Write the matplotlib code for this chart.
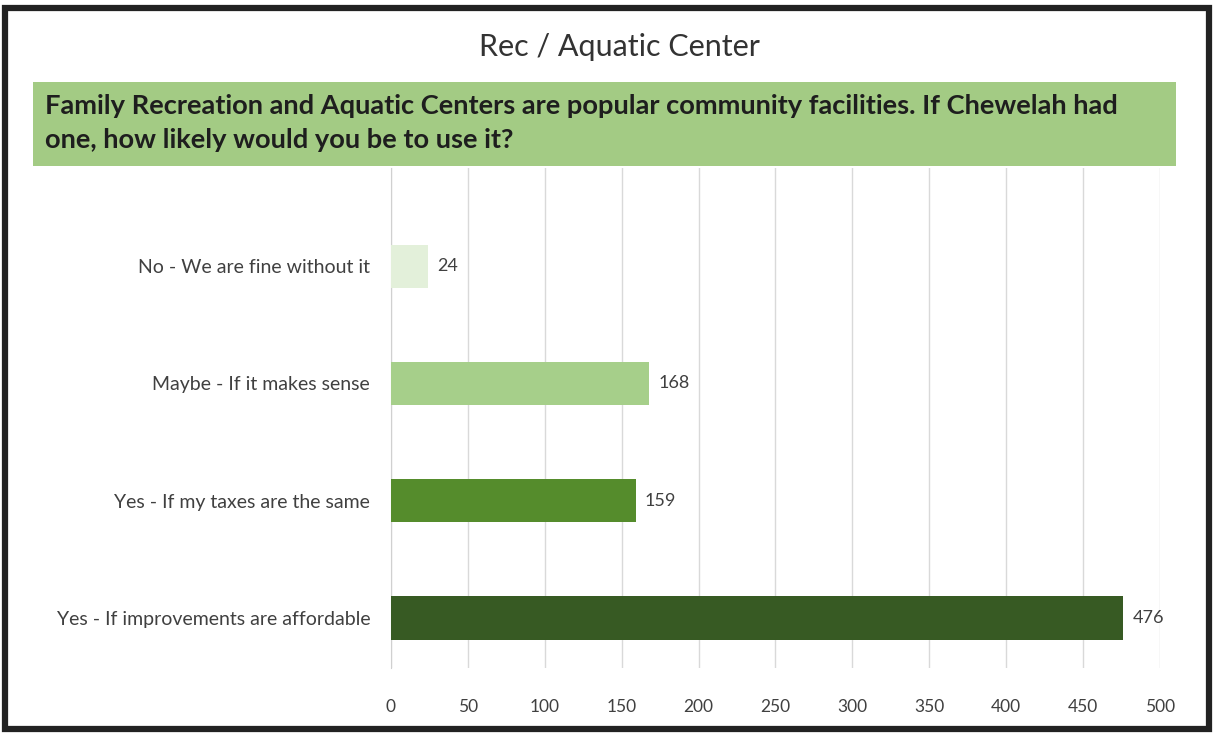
import matplotlib
matplotlib.use("Agg")
import matplotlib.pyplot as plt
from matplotlib.patches import Rectangle

# survey responses, top to bottom
categories = [
    "No - We are fine without it",
    "Maybe - If it makes sense",
    "Yes - If my taxes are the same",
    "Yes - If improvements are affordable",
]
counts = [24, 168, 159, 476]
bar_colors = ["#e3f0da", "#a6cf8a", "#558c2c", "#375a23"]
xticks = [0, 50, 100, 150, 200, 250, 300, 350, 400, 450, 500]

title = "Rec / Aquatic Center"
question = ("Family Recreation and Aquatic Centers are popular community facilities. If Chewelah had\n"
            "one, how likely would you be to use it?")

plt.rcParams["font.family"] = ["Lato", "DejaVu Sans"]

W, H = 1214, 734
fig = plt.figure(figsize=(W / 100, H / 100), dpi=100)


def fx(px):
    return px / W


def fy(py):
    return 1 - py / H


# outer frame
fig.patches.append(Rectangle((fx(5), fy(729)), fx(1209) - fx(5), fy(8) - fy(729),
                             transform=fig.transFigure, fill=False, ec="#222222", lw=4.5, zorder=5))

# question band
fig.patches.append(Rectangle((fx(33), fy(166)), fx(1176) - fx(33), fy(82) - fy(166),
                             transform=fig.transFigure, fc="#a3cb84", ec="none", zorder=0))

fig.text(0.51, fy(47), title, ha="center", va="center", fontsize=22, color="#333333")
fig.text(fx(45), fy(123), question, ha="left", va="center", fontsize=19.6,
         fontweight="bold", color="#1e1e1e", linespacing=1.5)

ax = fig.add_axes([fx(391), fy(668), fx(1160) - fx(391), fy(168) - fy(668)])
ypos = list(range(len(categories)))
ax.barh(ypos, counts, height=0.37, color=bar_colors, zorder=3)
for y, v in zip(ypos, counts):
    ax.text(v + 6, y, str(v), va="center", ha="left", fontsize=13, color="#404040")

ax.set_xlim(0, 500)
ax.set_ylim(3 + 50 / 117, -98 / 117)
ax.set_xticks(xticks)
ax.set_yticks(ypos)
ax.set_yticklabels(categories)
ax.tick_params(axis="x", length=0, pad=22, labelsize=12.5, labelcolor="#404040")
ax.tick_params(axis="y", length=0, pad=15, labelsize=14, labelcolor="#404040")
ax.grid(axis="x", color="#d9d9d9", lw=1, zorder=0)
for s in ["top", "right", "bottom"]:
    ax.spines[s].set_visible(False)
ax.spines["left"].set_color("#d0d0d0")

fig.savefig("out.png", dpi=100)
